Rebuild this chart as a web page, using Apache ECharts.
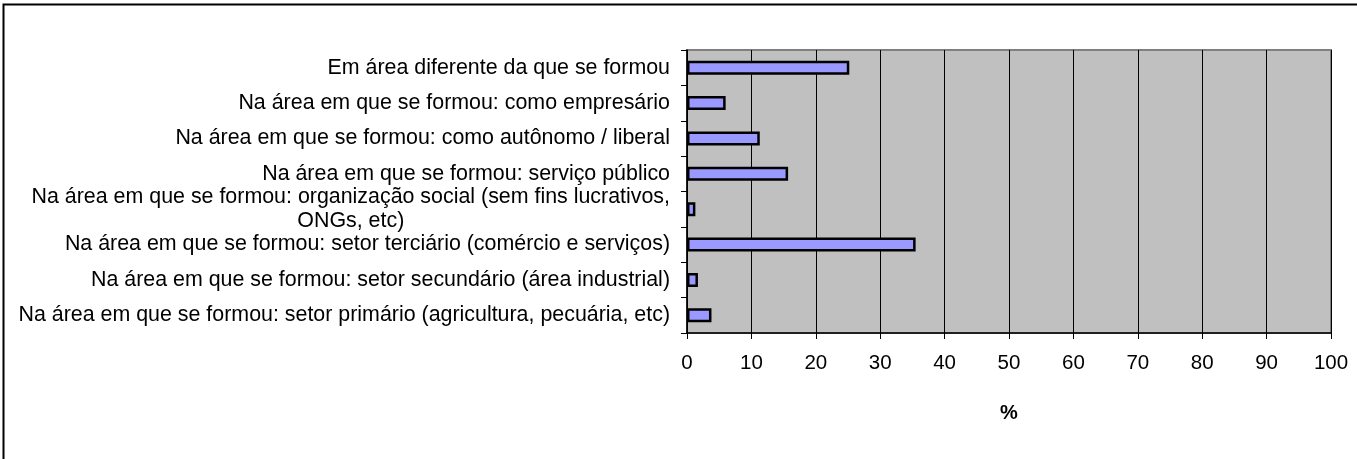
<!DOCTYPE html>
<html>
<head>
<meta charset="utf-8">
<script src="https://cdn.jsdelivr.net/npm/echarts@6/dist/echarts.min.js"></script>
<style>
  html, body { margin: 0; padding: 0; background: #fff; }
  #chart { width: 1357px; height: 459px; }
</style>
</head>
<body>
<div id="chart"></div>
<script>
// categories, top to bottom
const categories = [
  'Em área diferente da que se formou',
  'Na área em que se formou: como empresário',
  'Na área em que se formou: como autônomo / liberal',
  'Na área em que se formou: serviço público',
  'Na área em que se formou: organização social (sem fins lucrativos,\nONGs, etc)',
  'Na área em que se formou: setor terciário (comércio e serviços)',
  'Na área em que se formou: setor secundário (área industrial)',
  'Na área em que se formou: setor primário (agricultura, pecuária, etc)'
];
// % values
const values = [25.2, 6.0, 11.3, 15.7, 1.3, 35.5, 1.7, 3.8];
const xTicks = [0, 10, 20, 30, 40, 50, 60, 70, 80, 90, 100];

const FONT = '"Liberation Sans", Arial, sans-serif';

const chart = echarts.init(document.getElementById('chart'));

chart.setOption({
  animation: false,
  graphic: [
    {
      type: 'rect',
      shape: { x: 3.5, y: 4.5, width: 1400, height: 500 },
      style: { fill: 'none', stroke: '#000', lineWidth: 2 },
      z: -10
    }
  ],
  grid: {
    left: 687,
    right: 26,
    top: 50,
    bottom: 126,
    show: true,
    backgroundColor: '#C0C0C0',
    borderColor: '#808080',
    borderWidth: 2
  },
  xAxis: {
    type: 'value',
    min: 0,
    max: 100,
    interval: 10,
    name: '%',
    nameLocation: 'middle',
    nameGap: 70,
    nameTextStyle: { fontFamily: FONT, fontSize: 20, fontWeight: 'bold', color: '#000' },
    axisLine: { show: true, lineStyle: { color: '#000', width: 1.5 } },
    axisTick: { show: true, length: 6, lineStyle: { color: '#000' } },
    axisLabel: {
      margin: 20,
      fontFamily: FONT,
      fontSize: 20.5,
      color: '#000',
      formatter: (v) => xTicks.includes(v) ? String(v) : ''
    },
    splitLine: { show: true, lineStyle: { color: '#000', width: 1 } }
  },
  yAxis: {
    type: 'category',
    inverse: true,
    data: categories,
    axisLine: { show: true, lineStyle: { color: '#000', width: 1.5 } },
    axisTick: { show: true, length: 6, lineStyle: { color: '#000' } },
    axisLabel: {
      margin: 17,
      fontFamily: FONT,
      fontSize: 21.4,
      color: '#000',
      formatter: function (v) {
        if (v.indexOf('\n') < 0) return v;
        // wrapped label, lines centred like the original
        return v.split('\n').map(s => '{c|' + s + '}').join('\n');
      },
      rich: {
        c: { align: 'center', fontFamily: FONT, fontSize: 21.4, color: '#000', lineHeight: 24 }
      }
    },
    splitLine: { show: false }
  },
  series: [
    {
      type: 'bar',
      data: values,
      barWidth: 14,
      itemStyle: { color: '#9999FF', borderColor: '#000', borderWidth: 2.5 }
    }
  ]
});
</script>
</body>
</html>
